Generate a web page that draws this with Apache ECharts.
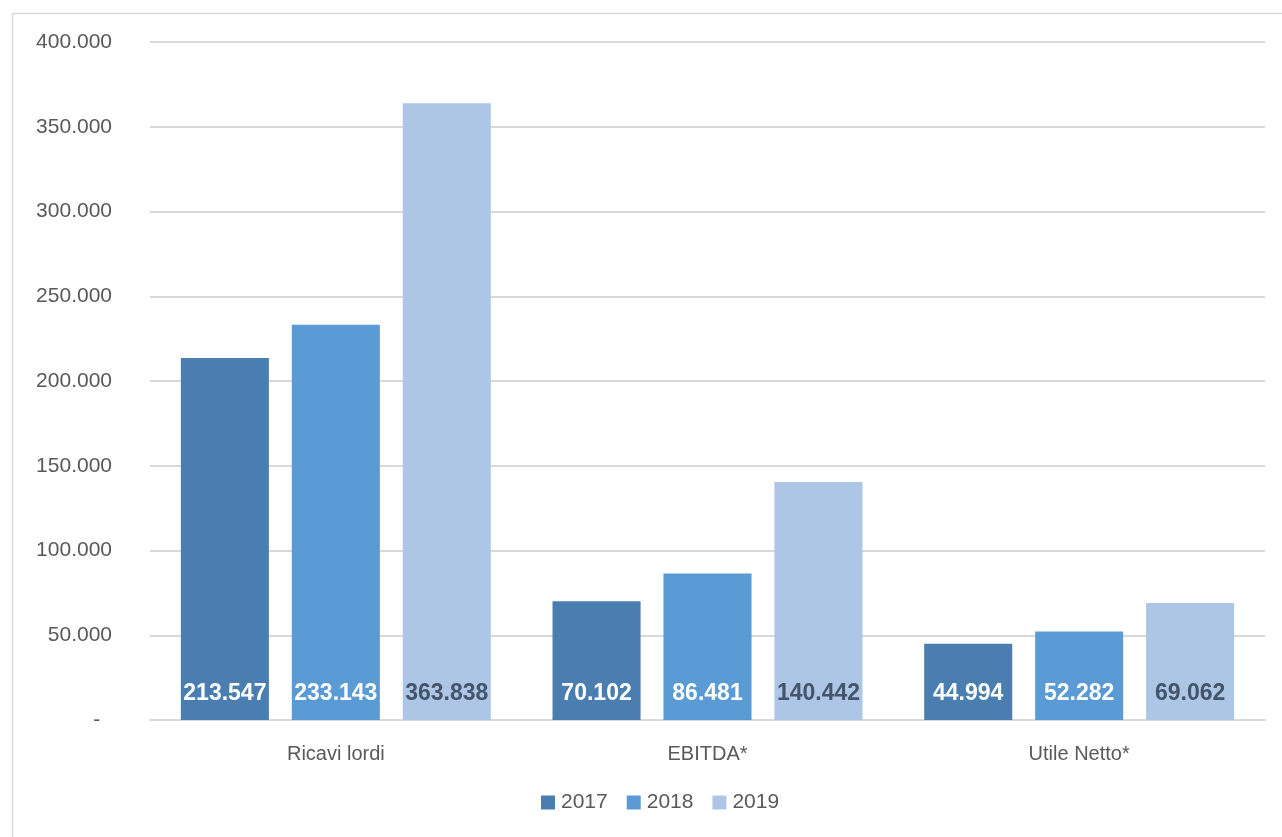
<!DOCTYPE html>
<html>
<head>
<meta charset="utf-8">
<script src="https://cdn.jsdelivr.net/npm/echarts@6/dist/echarts.min.js"></script>
<style>html,body{margin:0;padding:0;background:#fff}#c{width:1282px;height:837px}</style>
</head>
<body>
<div id="c"></div>
<script>
const categories = ['Ricavi lordi', 'EBITDA*', 'Utile Netto*'];
const years = ['2017', '2018', '2019'];
const v2017 = [213547, 70102, 44994];
const v2018 = [233143, 86481, 52282];
const v2019 = [363838, 140442, 69062];
const colors = ['#4a7eb0', '#5b9bd5', '#adc6e5'];
const labelColors = ['#ffffff', '#ffffff', '#44546a'];

function fmt(v) {
  if (v === 0) return '-  ';
  return String(v).replace(/\B(?=(\d{3})+(?!\d))/g, '.');
}

const chart = echarts.init(document.getElementById('c'));
const seriesData = [v2017, v2018, v2019];
chart.setOption({
  animation: false,
  textStyle: { fontFamily: 'Liberation Sans' },
  graphic: [{
    type: 'rect', left: 10, top: 11, silent: true,
    shape: { width: 1400, height: 1000 },
    style: { fill: 'none', stroke: '#d9d9d9', lineWidth: 1.5 }
  }],
  grid: { left: 150, right: 17, top: 42, bottom: 117, containLabel: false },
  legend: {
    bottom: 19, left: 536,
    itemWidth: 14, itemHeight: 14, itemGap: 19,
    icon: 'rect',
    textStyle: { fontSize: 21, color: '#595959', fontFamily: 'Liberation Sans', padding: [0, 0, 0, 1] },
    data: years
  },
  xAxis: {
    type: 'category', data: categories,
    axisLine: { lineStyle: { color: '#d9d9d9', width: 2 } },
    axisTick: { show: false },
    axisLabel: { fontSize: 20, color: '#595959', margin: 24 }
  },
  yAxis: {
    type: 'value', min: 0, max: 400000, interval: 50000,
    axisLine: { show: false }, axisTick: { show: false },
    splitLine: { lineStyle: { color: '#d9d9d9', width: 2 } },
    axisLabel: { fontSize: 21, color: '#595959', margin: 38, formatter: fmt }
  },
  series: years.map((y, i) => ({
    name: y, type: 'bar', data: seriesData[i],
    barGap: '26%', barCategoryGap: '16.6%',
    itemStyle: { color: colors[i] },
    label: {
      show: true, position: 'insideBottom', distance: 15,
      formatter: p => fmt(p.value),
      fontSize: 23, fontWeight: 'bold', color: labelColors[i],
      fontFamily: 'Liberation Sans'
    }
  }))
});
</script>
</body>
</html>
